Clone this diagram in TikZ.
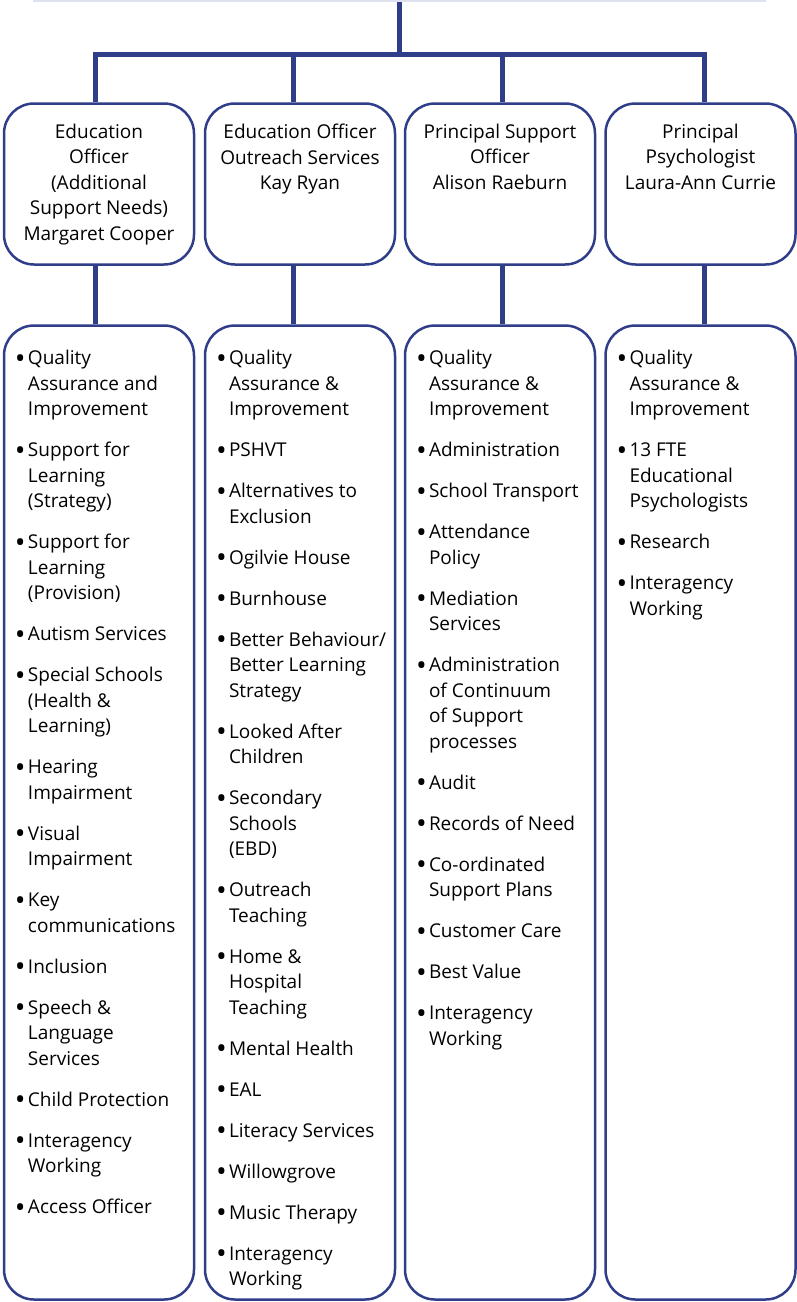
\documentclass[tikz,border=0pt]{standalone}
\usepackage{fontspec}
\usepackage{graphicx}
\setmainfont{Open Sans}
\usetikzlibrary{positioning}
\definecolor{navy}{RGB}{48,62,138}
\definecolor{paleblue}{RGB}{222,226,240}
% one bulleted entry of a list box
\newcommand{\bigdot}{\raisebox{-3.5pt}{\scalebox{1.5}{\textbullet}}}
\newcommand{\entry}[1]{\par\noindent\hangindent=13pt\hangafter=1\makebox[13pt][l]{\bigdot}#1\par\vspace{15.5pt}}
\newcommand{\listtext}[1]{\parbox[c][968pt][t]{168pt}{\hyphenpenalty=10000\rightskip=-20pt\vspace*{22pt}#1}}
\newcommand{\headtext}[1]{\parbox[c][156pt][t]{186pt}{\centering\vspace*{18pt}#1}}

\begin{document}
\begin{tikzpicture}[x=1pt,y=-1pt,
    headbox/.style={draw=navy, line width=2.5pt, fill=white, rounded corners=30pt,
      minimum width=190pt, minimum height=161pt, inner sep=0pt,
      font=\fontsize{19}{25.5}\selectfont},
    listbox/.style={headbox, minimum height=974pt},
    link/.style={draw=navy, line width=5pt},
  ]
  \useasboundingbox (0,0) rectangle (797,1302);
  \clip (0,0) rectangle (797,1302);

  % director box, cut off at the top
  \node[fill=paleblue, minimum width=733pt, minimum height=80pt, inner sep=0pt] (top) at (399.5,-38.5) {};
  \coordinate (bus) at (399.5,54.5);

  % heads of service
  \node[headbox] (h1) at (99,184) {\headtext{Education\\Officer\\(Additional\\Support Needs)\\Margaret Cooper}};
  \node[headbox] (h2) at (300,184) {\headtext{Education Officer\\Outreach Services\\Kay Ryan}};
  \node[headbox] (h3) at (500,184) {\headtext{Principal Support\\Officer\\Alison Raeburn}};
  \node[headbox] (h4) at (700.5,184) {\headtext{Principal\\Psychologist\\Laura-Ann Currie}};

  % remits
  \node[listbox] (b1) at (99,812.5) {\listtext{%
    \entry{Quality\\Assurance and\\Improvement}
    \entry{Support for\\Learning\\(Strategy)}
    \entry{Support for\\Learning\\(Provision)}
    \entry{Autism Services}
    \entry{Special Schools\\(Health \&\\Learning)}
    \entry{Hearing\\Impairment}
    \entry{Visual\\Impairment}
    \entry{Key\\communications}
    \entry{Inclusion}
    \entry{Speech \&\\Language\\Services}
    \entry{Child Protection}
    \entry{Interagency\\Working}
    \entry{Access Officer}}};
  \node[listbox] (b2) at (300,812.5) {\listtext{%
    \entry{Quality\\Assurance \&\\Improvement}
    \entry{PSHVT}
    \entry{Alternatives to\\Exclusion}
    \entry{Ogilvie House}
    \entry{Burnhouse}
    \entry{Better Behaviour/\\Better Learning\\Strategy}
    \entry{Looked After\\Children}
    \entry{Secondary\\Schools\\(EBD)}
    \entry{Outreach\\Teaching}
    \entry{Home \&\\Hospital\\Teaching}
    \entry{Mental Health}
    \entry{EAL}
    \entry{Literacy Services}
    \entry{Willowgrove}
    \entry{Music Therapy}
    \entry{Interagency\\Working}}};
  \node[listbox] (b3) at (500,812.5) {\listtext{%
    \entry{Quality\\Assurance \&\\Improvement}
    \entry{Administration}
    \entry{School Transport}
    \entry{Attendance\\Policy}
    \entry{Mediation\\Services}
    \entry{Administration\\of Continuum\\of Support\\processes}
    \entry{Audit}
    \entry{Records of Need}
    \entry{Co-ordinated\\Support Plans}
    \entry{Customer Care}
    \entry{Best Value}
    \entry{Interagency\\Working}}};
  \node[listbox] (b4) at (700.5,812.5) {\listtext{%
    \entry{Quality\\Assurance \&\\Improvement}
    \entry{13 FTE\\Educational\\Psychologists}
    \entry{Research}
    \entry{Interagency\\Working}}};

  % links
  \draw[link] (top.south) -- (bus);
  \draw[link] ([xshift=-4]h1.north) |- (bus) -| ([xshift=3.5]h4.north);
  \draw[link] ([xshift=-7]h2.north) -- ([xshift=-7]h2.north |- bus);
  \draw[link] ([xshift=2]h3.north) -- ([xshift=2]h3.north |- bus);
  \draw[link] ([xshift=-4]h1.south) -- ([xshift=-4]b1.north);
  \draw[link] ([xshift=-7]h2.south) -- ([xshift=-7]b2.north);
  \draw[link] ([xshift=2]h3.south) -- ([xshift=2]b3.north);
  \draw[link] ([xshift=3.5]h4.south) -- ([xshift=3.5]b4.north);
\end{tikzpicture}
\end{document}
